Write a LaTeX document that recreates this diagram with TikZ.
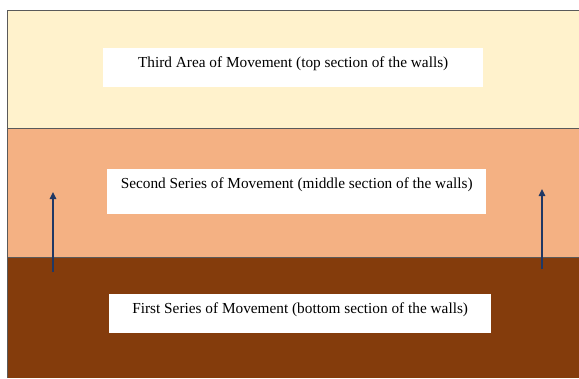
\documentclass[tikz,border=0pt]{standalone}
\usepackage{fontspec}
\setmainfont{Liberation Serif}
\usetikzlibrary{arrows.meta}
\definecolor{cream}{HTML}{FFF2CC}
\definecolor{peach}{HTML}{F4B183}
\definecolor{soil}{HTML}{843C0C}
\definecolor{edgegray}{HTML}{5A5A5A}
\definecolor{navy}{HTML}{203864}
\tikzset{
  band/.style={fill=#1, draw=none, inner sep=0pt, anchor=north west},
  labelbox/.style={fill=white, draw=none, inner xsep=0pt, inner ysep=0pt, anchor=north west,
    font=\fontsize{15.3}{18}\selectfont, text=black, align=center},
  edgeline/.style={draw=edgegray, line width=1pt},
  upflow/.style={draw=navy, line width=1.5pt, -{Triangle[width=6.5pt,length=7pt]}}
}
\begin{document}
\begin{tikzpicture}[x=1pt,y=-1pt]
\useasboundingbox (0,0) rectangle (579,378);
\fill[white] (0,0) rectangle (579,378);
% bands
\node[band=cream, minimum width=572pt, minimum height=118pt] (topband) at (7,10) {};
\node[band=peach, minimum width=572pt, minimum height=129pt] (midband) at (7,128) {};
\node[band=soil, minimum width=572pt, minimum height=121pt] (botband) at (7,257) {};
% borders
\draw[edgeline] (topband.north west) -- (topband.north east);
\draw[edgeline] (topband.north west) -- (botband.south west);
\draw[edgeline] (midband.north west) -- (midband.north east);
\draw[edgeline] (botband.north west) -- (botband.north east);
% label boxes
\node[labelbox, minimum width=380pt, text height=19pt, text depth=20pt] (third) at (103,48)
  {Third Area of Movement (top section of the walls)};
\node[labelbox, minimum width=379pt, text height=19pt, text depth=26pt] (second) at (107,169)
  {Second Series of Movement (middle section of the walls)};
\node[labelbox, minimum width=382pt, text height=19pt, text depth=20pt] (first) at (109,294)
  {First Series of Movement (bottom section of the walls)};
% arrows
\coordinate (la) at (53,272);
\coordinate (lb) at (53,192);
\coordinate (ra) at (542,269);
\coordinate (rb) at (542,189);
\draw[upflow] (la) -- (lb);
\draw[upflow] (ra) -- (rb);
\end{tikzpicture}
\end{document}
